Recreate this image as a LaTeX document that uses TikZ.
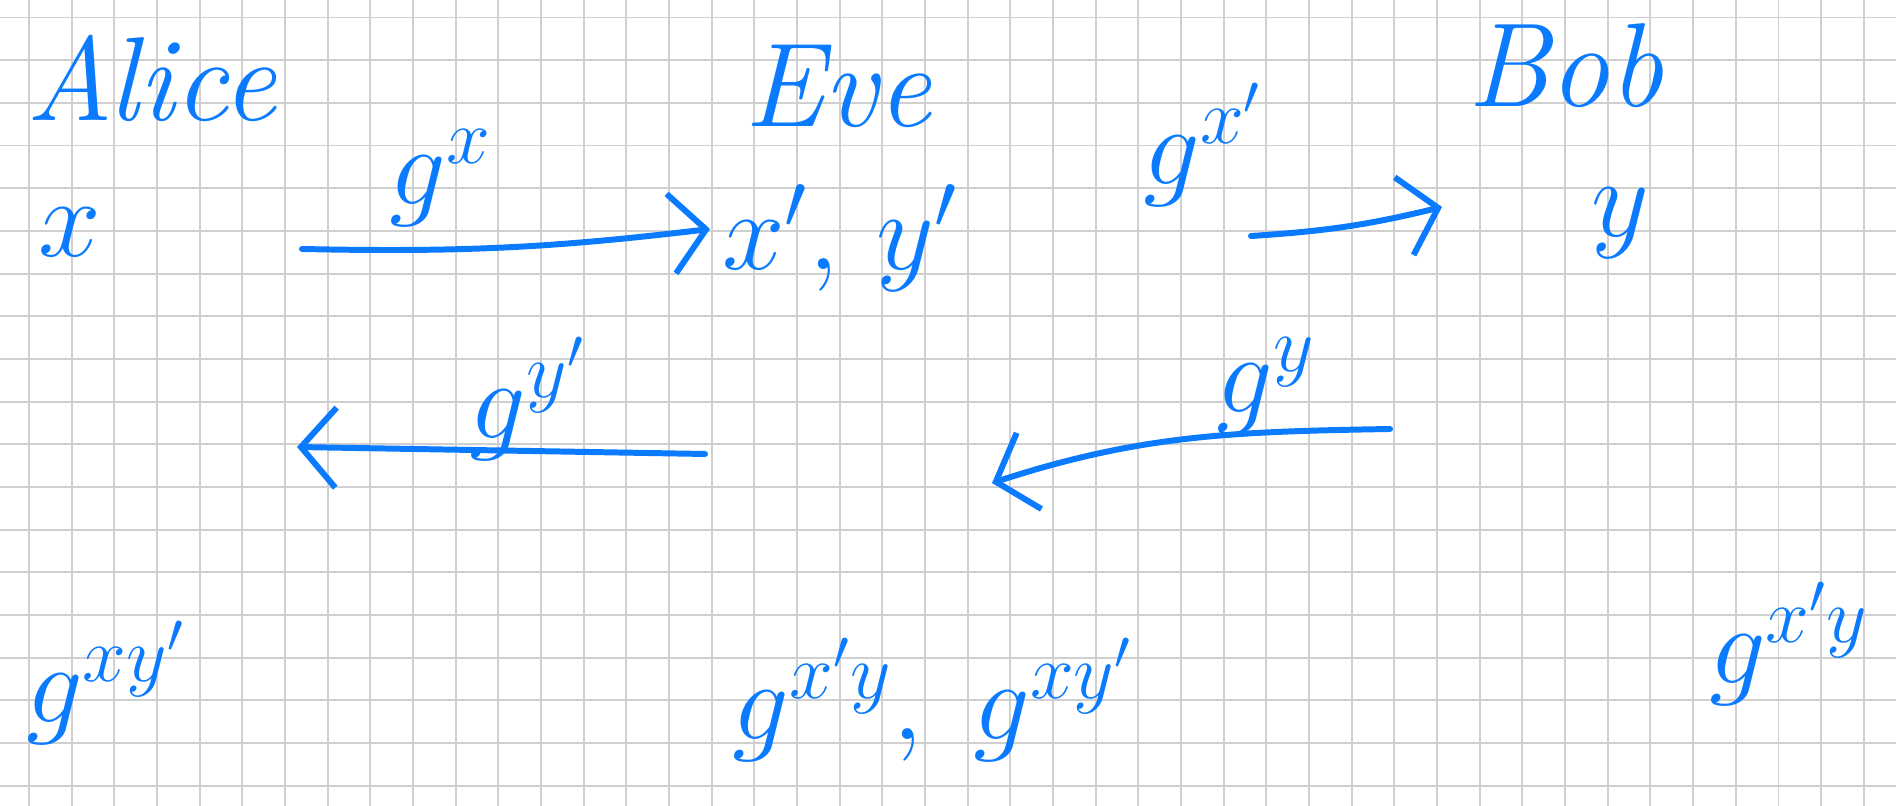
\RequirePackage{fix-cm}
\documentclass[tikz,border=0pt]{standalone}
\usepackage{amsmath}
\usepackage{tikz}
\usetikzlibrary{arrows.meta}
\definecolor{inkblue}{RGB}{10,122,255}
\definecolor{gridgray}{RGB}{208,208,208}
\tikzset{
  gridline/.style  ={gridgray,line width=0.55pt},
  partytext/.style ={text=inkblue,inner sep=0pt,font=\fontsize{34}{38}\selectfont\itshape},
  valtext/.style   ={text=inkblue,inner sep=0pt,font=\fontsize{32}{36}\selectfont},
  flow/.style      ={inkblue,line width=1.7pt,line cap=round,
                     -{Straight Barb[length=3.5mm,width=8mm]}},
}

\begin{document}
\begin{tikzpicture}
\useasboundingbox (0,0) rectangle (18.96,8.06);
% squared paper
\foreach \i in {0,...,43} \draw[gridline] ({0.29+0.4267*\i},0) -- ++(0,8.06);
\foreach \j in {0,...,18} \draw[gridline] (0,{7.885-0.4268*\j}) -- ++(18.96,0);
% parties
\node[partytext] (alice) at (1.51,7.28) {Alice};
\node[partytext] (eve)   at (8.38,7.20) {Eve};
\node[partytext] (bob)   at (15.65,7.40) {Bob};
% secrets
\node[valtext] (xa)  at (0.70,5.74)  {$x$};
\node[valtext] (xye) at (8.40,5.68)  {$x',\,y'$};
\node[valtext] (yb)  at (16.20,5.83) {$y$};
% message ends
\coordinate (m1s) at (3.02,5.57);  \coordinate (m1e) at (7.10,5.77);
\coordinate (m2s) at (12.51,5.70); \coordinate (m2e) at (14.42,5.99);
\coordinate (m3s) at (7.05,3.52);  \coordinate (m3e) at (2.97,3.59);
\coordinate (m4s) at (13.90,3.77); \coordinate (m4e) at (9.92,3.23);
% messages
\draw[flow] (m1s) to[bend right=4] (m1e);
\draw[flow] (m2s) to[bend right=5] (m2e);
\draw[flow] (m3s) -- (m3e);
\draw[flow] (m4s) to[out=181,in=18] (m4e);
\node[valtext] (gx)  at (4.41,6.28)  {$g^{x}$};
\node[valtext] (gxp) at (12.03,6.61) {$g^{x'}$};
\node[valtext] (gyp) at (5.28,4.07)  {$g^{y'}$};
\node[valtext] (gy)  at (12.66,4.20) {$g^{y}$};
% shared keys
\node[valtext] (kA) at (1.06,1.23)  {$g^{xy'}$};
\node[valtext] (kE) at (9.33,1.06)  {$g^{x'y},\;g^{xy'}$};
\node[valtext] (kB) at (17.89,1.62) {$g^{x'y}$};
\end{tikzpicture}
\end{document}
